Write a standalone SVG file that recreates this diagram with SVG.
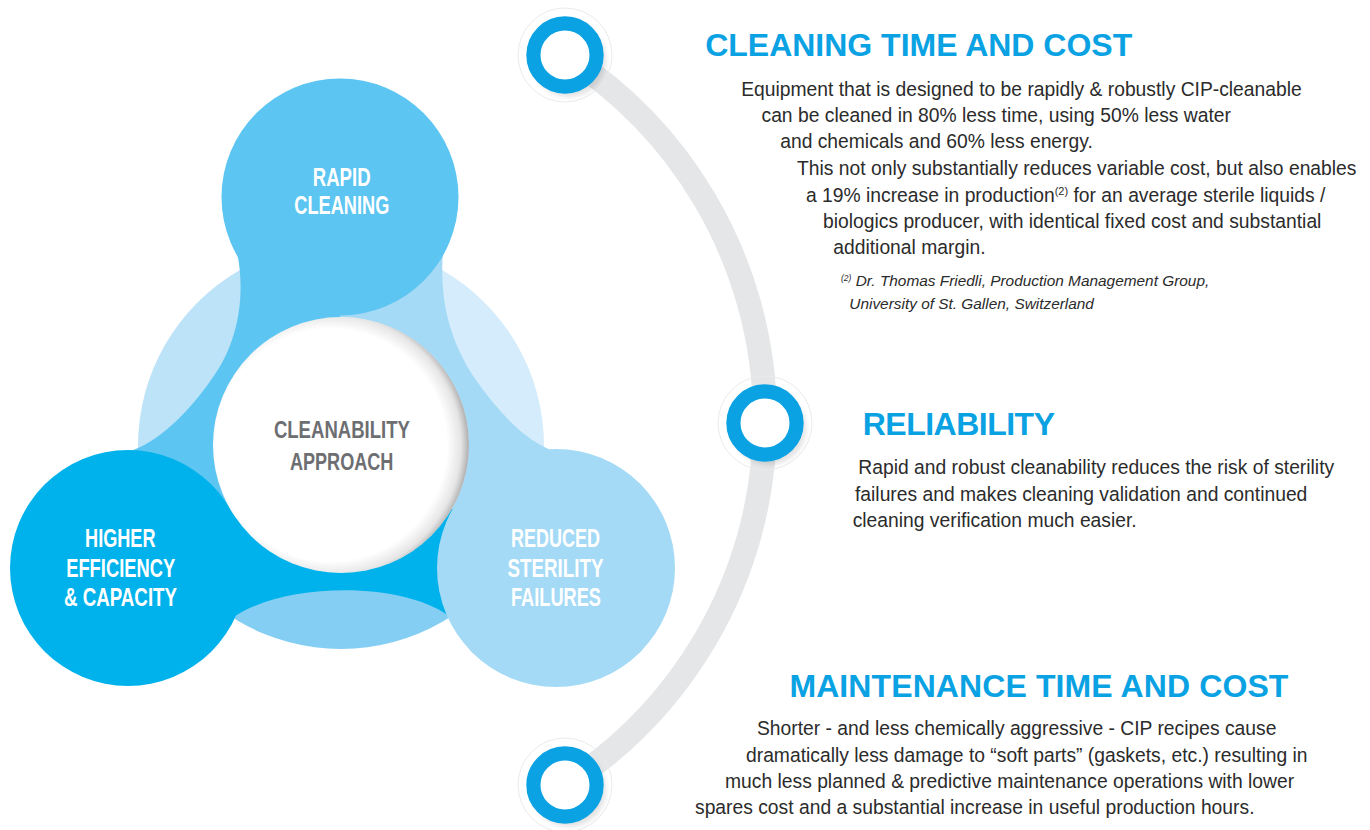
<svg xmlns="http://www.w3.org/2000/svg" width="1370" height="830" viewBox="0 0 1370 830">
<style>
.body{font-family:"Liberation Sans",Arial,sans-serif;font-size:19.3px;fill:#2b2b2b}
.note{font-family:"Liberation Sans",Arial,sans-serif;font-style:italic;font-size:15.4px;fill:#2b2b2b}
.title{font-family:"Liberation Sans",Arial,sans-serif;font-weight:bold;font-size:32px;fill:#0aa2e3}
.lobe{font-family:"Liberation Sans Narrow","Liberation Sans",Arial,sans-serif;font-weight:bold;font-size:25px;fill:#ffffff;text-anchor:middle}
.ctr{font-family:"Liberation Sans Narrow","Liberation Sans",Arial,sans-serif;font-weight:bold;font-size:24.5px;fill:#6d6e71;text-anchor:middle}
.ring{fill:#ffffff;stroke:#0aa2e3;stroke-width:14.2}
.halo{fill:none;stroke:#ebebec;stroke-width:1}
.rshadow{fill:#000;opacity:0.11}
</style>
<defs>
<radialGradient id="wshade" cx="0.46" cy="0.5" r="0.54">
<stop offset="0.84" stop-color="#9a9a9a" stop-opacity="0"/>
<stop offset="0.94" stop-color="#9a9a9a" stop-opacity="0.25"/>
<stop offset="1" stop-color="#8a8a8a" stop-opacity="0.7"/>
</radialGradient>
<filter id="blur" x="-30%" y="-30%" width="160%" height="160%">
<feGaussianBlur stdDeviation="2.5"/>
</filter>
</defs>

<g id="connectors">
<path d="M565,55 A433,433 0 0 1 565,785" fill="none" stroke="#e5e6e8" stroke-width="24"/>
</g>

<g id="cluster">
<g id="sectors">
<path d="M341,446 L341,243 A203,203 0 0 0 165.2,547.5 Z" fill="#bde3f8"/>
<path d="M341,446 L341,243 A203,203 0 0 1 516.8,547.5 Z" fill="#d4ecfb"/>
<path d="M341,446 L165.2,547.5 A203,203 0 0 0 516.8,547.5 Z" fill="#84cef3"/>
</g>
<g id="tails">
<path d="M340,197 L237,252 C245,290 241,340 211,380 C190,410 160,442 128,452 L128,568 L341,445 Z" fill="#5cc5f1"/>
<path d="M128,568 L230,620 C275,583 405,578 454,620 L556,568 L341,445 Z" fill="#00b2eb"/>
<path d="M556,568 L556,452 C525,442 497,410 476,380 C445,335 440,290 443,252 L340,197 L341,445 Z" fill="#a4daf6"/>
</g>
<g id="node-rapid-cleaning">
<circle cx="340" cy="197" r="118.5" fill="#5cc5f1"/>
<text class="lobe" x="341.7" y="186" textLength="58" lengthAdjust="spacingAndGlyphs">RAPID</text>
<text class="lobe" x="341.8" y="214.3" textLength="95" lengthAdjust="spacingAndGlyphs">CLEANING</text>
</g>
<g id="node-higher-efficiency">
<circle cx="128" cy="568" r="118" fill="#00b2eb"/>
<text class="lobe" x="120.3" y="546.7" textLength="70.5" lengthAdjust="spacingAndGlyphs">HIGHER</text>
<text class="lobe" x="120.7" y="576.5" textLength="109" lengthAdjust="spacingAndGlyphs">EFFICIENCY</text>
<text class="lobe" x="120.5" y="606" textLength="113" lengthAdjust="spacingAndGlyphs">&amp; CAPACITY</text>
</g>
<g id="node-reduced-sterility">
<circle cx="556" cy="568" r="119" fill="#a4daf6"/>
<text class="lobe" x="555.5" y="546.7" textLength="89" lengthAdjust="spacingAndGlyphs">REDUCED</text>
<text class="lobe" x="555.5" y="576.5" textLength="96" lengthAdjust="spacingAndGlyphs">STERILITY</text>
<text class="lobe" x="556" y="606" textLength="90" lengthAdjust="spacingAndGlyphs">FAILURES</text>
</g>
<g id="node-cleanability-approach">
<circle cx="341" cy="445" r="128" fill="#ffffff"/>
<circle cx="341" cy="445" r="128" fill="url(#wshade)"/>
<text class="ctr" x="341.9" y="438.3" textLength="136" lengthAdjust="spacingAndGlyphs">CLEANABILITY</text>
<text class="ctr" x="341.7" y="470" textLength="103.5" lengthAdjust="spacingAndGlyphs">APPROACH</text>
</g>
</g>

<g id="node-cleaning-time">
<circle class="halo" cx="565" cy="55" r="47"/>
<circle class="rshadow" cx="569" cy="60" r="37" filter="url(#blur)"/>
<circle class="ring" cx="565" cy="55" r="31.6"/>
<text class="title" x="705.2" y="55.7" textLength="427">CLEANING TIME AND COST</text>
<text class="body" x="741.2" y="96">Equipment that is designed to be rapidly &amp; robustly CIP-cleanable</text>
<text class="body" x="761.5" y="122">can be cleaned in 80% less time, using 50% less water</text>
<text class="body" x="780.2" y="148">and chemicals and 60% less energy.</text>
<text class="body" x="797" y="175">This not only substantially reduces variable cost, but also enables</text>
<text class="body" x="806" y="201.5">a 19% increase in production<tspan font-size="11" dy="-7">(2)</tspan><tspan dy="7"> for an average sterile liquids /</tspan></text>
<text class="body" x="823" y="228">biologics producer, with identical fixed cost and substantial</text>
<text class="body" x="833.3" y="254">additional margin.</text>
<text class="note" x="841" y="285.7"><tspan font-size="8.5" dy="-5">(2)</tspan><tspan dy="5"> Dr. Thomas Friedli, Production Management Group,</tspan></text>
<text class="note" x="849.3" y="309.3">University of St. Gallen, Switzerland</text>
</g>

<g id="node-reliability">
<circle class="halo" cx="765" cy="423" r="47"/>
<circle class="rshadow" cx="769" cy="428" r="37" filter="url(#blur)"/>
<circle class="ring" cx="765" cy="423" r="31.6"/>
<text class="title" x="862.7" y="435" textLength="192.3">RELIABILITY</text>
<text class="body" x="858.3" y="474">Rapid and robust cleanability reduces the risk of sterility</text>
<text class="body" x="855" y="500.5">failures and makes cleaning validation and continued</text>
<text class="body" x="852.7" y="527">cleaning verification much easier.</text>
</g>

<g id="node-maintenance">
<circle class="halo" cx="565" cy="785" r="47"/>
<circle class="rshadow" cx="569" cy="790" r="37" filter="url(#blur)"/>
<circle class="ring" cx="565" cy="785" r="31.6"/>
<text class="title" x="789.4" y="696.7" textLength="499">MAINTENANCE TIME AND COST</text>
<text class="body" x="757" y="735">Shorter - and less chemically aggressive - CIP recipes cause</text>
<text class="body" x="746" y="761.7">dramatically less damage to “soft parts” (gaskets, etc.) resulting in</text>
<text class="body" x="725" y="788.3">much less planned &amp; predictive maintenance operations with lower</text>
<text class="body" x="695" y="814">spares cost and a substantial increase in useful production hours.</text>
</g>
</svg>
